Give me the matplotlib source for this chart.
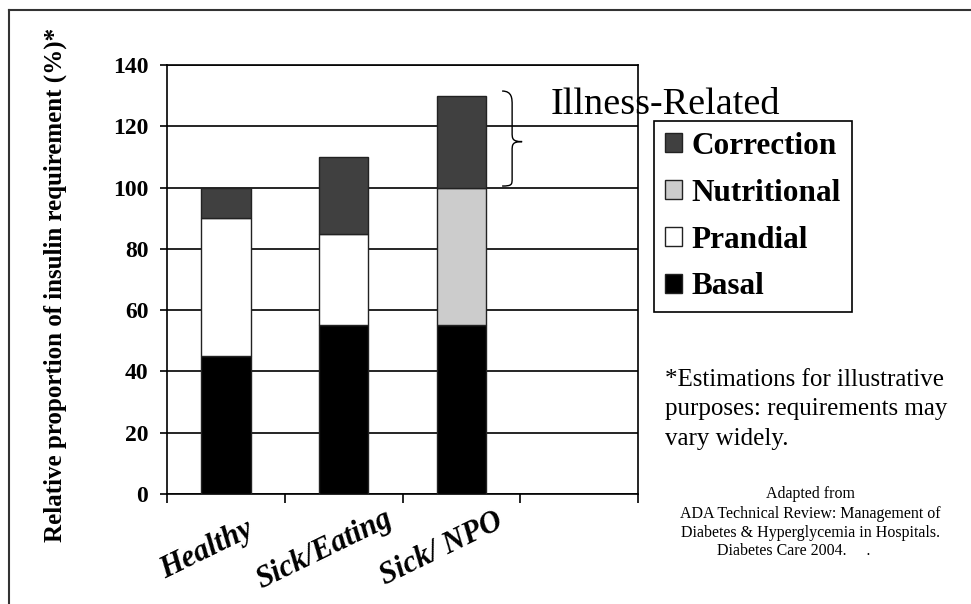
import matplotlib
matplotlib.use("Agg")
import matplotlib.pyplot as plt
from matplotlib.path import Path
from matplotlib.patches import PathPatch, Patch
from matplotlib.lines import Line2D
import numpy as np

plt.rcParams['font.family'] = ['Liberation Serif', 'DejaVu Serif']

# data (percent of insulin requirement)
categories = ['Healthy', 'Sick/Eating', 'Sick/ NPO']
n_slots = 4  # the chart leaves one empty category slot on the right
basal = [45, 55, 55]
prandial = [45, 30, 0]
nutritional = [0, 0, 45]
correction = [10, 25, 30]

series = [('Basal', basal, '#000000'),
          ('Prandial', prandial, '#ffffff'),
          ('Nutritional', nutritional, '#cccccc'),
          ('Correction', correction, '#404040')]
edge = '#222222'

W, H = 971, 604
fig = plt.figure(figsize=(W / 100, H / 100), dpi=100)
ax = fig.add_axes([167 / W, 1 - 494 / H, (638 - 167) / W, (494 - 65) / H])

x = np.arange(len(categories))
bottom = np.zeros(len(categories))
handles = {}
for name, vals, col in series:
    vals = np.array(vals, dtype=float)
    bars = ax.bar(x, vals, width=0.42, bottom=bottom, color=col,
                  edgecolor=edge, linewidth=1.0, zorder=3)
    for p, v in zip(bars.patches, vals):
        if v == 0:
            p.set_visible(False)
    handles[name] = Patch(facecolor=col, edgecolor=edge, linewidth=1.0)
    bottom += vals

ax.set_xlim(-0.5, n_slots - 0.5)
ax.set_ylim(0, 140)
ax.set_yticks(np.arange(0, 141, 20))
ax.set_xticks(np.arange(-0.5, n_slots, 1))
ax.set_xticklabels([])
ax.yaxis.grid(True, color='black', linewidth=1.2)
ax.set_axisbelow(True)
for s in ax.spines.values():
    s.set_linewidth(1.2)
    s.set_color('black')
ax.tick_params(axis='y', direction='out', length=5, width=1.2, pad=8.5,
               labelsize=17)
ax.tick_params(axis='x', direction='out', length=6.5, width=1.2)
for lab in ax.get_yticklabels():
    lab.set_fontweight('bold')

ax.set_ylabel('Relative proportion of insulin requirement (%)*',
              fontsize=18, fontweight='bold')
ax.yaxis.set_label_coords(-0.2120, 0.487)

# category labels, rotated
for i, c in enumerate(categories):
    ax.annotate(c, xy=(i, 0), xycoords=('data', 'axes fraction'),
                xytext=(-14, -40), textcoords='offset points',
                ha='center', va='center', rotation=26, rotation_mode='anchor',
                fontsize=22, fontweight='bold', fontstyle='italic')

# curly brace beside the illness-related part of the last bar
i = 2
y0 = bottom[i] - correction[i]
y1 = bottom[i]
xa = i + 0.21 + 0.136
xs = xa + 0.085
xt = xs + 0.085
ym = (y0 + y1) / 2
k = 3.0
verts = [(xa, y1 + 1.5), (xs, y1 + 1.5), (xs, y1 - 1), (xs, y1 - k),
         (xs, ym + k),
         (xs, ym + 1), (xs, ym), (xt, ym),
         (xs, ym), (xs, ym - 1), (xs, ym - k),
         (xs, y0 + k),
         (xs, y0 + 1), (xs, y0 + 0.5), (xa, y0 + 0.5)]
codes = [Path.MOVETO, Path.CURVE4, Path.CURVE4, Path.CURVE4,
         Path.LINETO,
         Path.CURVE4, Path.CURVE4, Path.CURVE4,
         Path.CURVE4, Path.CURVE4, Path.CURVE4,
         Path.LINETO,
         Path.CURVE4, Path.CURVE4, Path.CURVE4]
ax.add_patch(PathPatch(Path(verts, codes), facecolor='none',
                       edgecolor='black', linewidth=1.0, zorder=4,
                       clip_on=False))

fig.text(551 / W, 1 - 114 / H, 'Illness-Related', fontsize=27.5,
         va='baseline', ha='left', zorder=1)

order = ['Correction', 'Nutritional', 'Prandial', 'Basal']
leg = fig.legend([handles[o] for o in order], order,
                 loc='upper left', bbox_to_anchor=(654 / W, 1 - 121 / H),
                 prop={'size': 22.5, 'weight': 'bold'}, frameon=True,
                 fancybox=False, edgecolor='black', framealpha=1,
                 handlelength=0.55, handleheight=0.55, handletextpad=0.3,
                 labelspacing=0.57, borderpad=0.35, borderaxespad=0)
leg.get_frame().set_linewidth(1.2)

fig.text(665 / W, 1 - 369 / H,
         '*Estimations for illustrative\npurposes: requirements may\nvary widely.',
         fontsize=18, ha='left', va='top', linespacing=1.44)

fig.text(810 / W, 1 - 486 / H,
         'Adapted from\nADA Technical Review: Management of\n'
         'Diabetes & Hyperglycemia in Hospitals.',
         fontsize=11.5, ha='center', va='top', multialignment='center',
         linespacing=1.3)
fig.text(717 / W, 1 - 551 / H, 'Diabetes Care 2004.     .',
         fontsize=11.5, ha='left', va='center')

# outer frame (only the top and left edges show)
fig.add_artist(Line2D([9 / W, 9 / W], [0, 1 - 10 / H], color='#333333',
                      linewidth=1.5, transform=fig.transFigure))
fig.add_artist(Line2D([9 / W, 1], [1 - 10 / H, 1 - 10 / H], color='#333333',
                      linewidth=1.5, transform=fig.transFigure))

fig.savefig('out.png', dpi=100)
